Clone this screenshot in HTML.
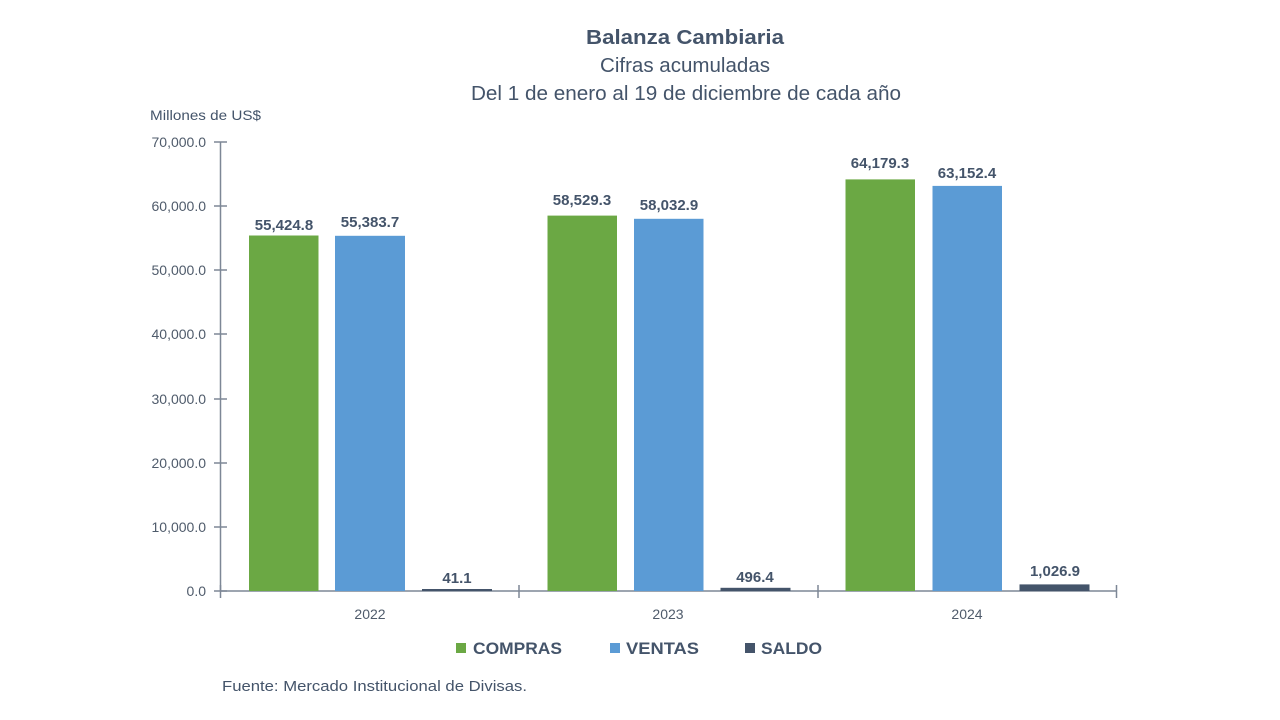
<!DOCTYPE html>
<html><head><meta charset="utf-8"><style>
html,body{margin:0;padding:0;background:#fff;}
svg{display:block;font-family:"Liberation Sans",sans-serif;}
</style></head><body>
<svg width="1280" height="720" viewBox="0 0 1280 720" xmlns="http://www.w3.org/2000/svg">
<rect width="1280" height="720" fill="#fff"/>
<!-- titles -->
<text x="685" y="44" text-anchor="middle" font-size="20" font-weight="bold" fill="#44546a" textLength="198" lengthAdjust="spacingAndGlyphs">Balanza Cambiaria</text>
<text x="685" y="72" text-anchor="middle" font-size="20" fill="#44546a" textLength="170" lengthAdjust="spacingAndGlyphs">Cifras acumuladas</text>
<text x="686" y="100" text-anchor="middle" font-size="20" fill="#44546a" textLength="430" lengthAdjust="spacingAndGlyphs">Del 1 de enero al 19 de diciembre de cada año</text>
<text x="150" y="120" font-size="14" fill="#44546a" textLength="111" lengthAdjust="spacingAndGlyphs">Millones de US$</text>
<!-- y axis -->
<g stroke="#7d8796" stroke-width="1.5">
<line x1="220.5" y1="142" x2="220.5" y2="591"/>
<line x1="214" y1="142" x2="227" y2="142"/>
<line x1="214" y1="206" x2="227" y2="206"/>
<line x1="214" y1="270" x2="227" y2="270"/>
<line x1="214" y1="334" x2="227" y2="334"/>
<line x1="214" y1="399" x2="227" y2="399"/>
<line x1="214" y1="463" x2="227" y2="463"/>
<line x1="214" y1="527" x2="227" y2="527"/>
<line x1="214" y1="591" x2="227" y2="591"/>
<line x1="220" y1="591" x2="1117" y2="591"/>
<line x1="220.5" y1="585" x2="220.5" y2="598"/>
<line x1="519" y1="585" x2="519" y2="598"/>
<line x1="818" y1="585" x2="818" y2="598"/>
<line x1="1116.5" y1="585" x2="1116.5" y2="598"/>
</g>
<g font-size="14" fill="#4f5b6b" text-anchor="end">
<text x="206" y="147">70,000.0</text>
<text x="206" y="211">60,000.0</text>
<text x="206" y="275">50,000.0</text>
<text x="206" y="339">40,000.0</text>
<text x="206" y="404">30,000.0</text>
<text x="206" y="468">20,000.0</text>
<text x="206" y="532">10,000.0</text>
<text x="206" y="596">0.0</text>
</g>
<g font-size="14" fill="#4f5b6b" text-anchor="middle">
<text x="370" y="619">2022</text>
<text x="668" y="619">2023</text>
<text x="967" y="619">2024</text>
</g>
<!-- bars -->
<g>
<rect x="249" y="235.5" width="69.5" height="355.5" fill="#6ba844"/>
<rect x="335" y="235.8" width="70" height="355.2" fill="#5b9bd5"/>
<rect x="422" y="589" width="70" height="2" fill="#44546a"/>
<rect x="547.5" y="215.6" width="69.5" height="375.4" fill="#6ba844"/>
<rect x="634" y="218.8" width="69.5" height="372.2" fill="#5b9bd5"/>
<rect x="720.5" y="587.8" width="70" height="3.2" fill="#44546a"/>
<rect x="845.5" y="179.4" width="69.5" height="411.6" fill="#6ba844"/>
<rect x="932.5" y="185.9" width="69.5" height="405.1" fill="#5b9bd5"/>
<rect x="1019.5" y="584.4" width="70" height="6.6" fill="#44546a"/>
</g>
<g font-size="15" font-weight="bold" fill="#44546a" text-anchor="middle">
<text x="284" y="230">55,424.8</text>
<text x="370" y="227">55,383.7</text>
<text x="457" y="583">41.1</text>
<text x="582" y="205">58,529.3</text>
<text x="669" y="210">58,032.9</text>
<text x="755" y="582">496.4</text>
<text x="880" y="168">64,179.3</text>
<text x="967" y="178">63,152.4</text>
<text x="1055" y="576">1,026.9</text>
</g>
<!-- legend -->
<rect x="456" y="643" width="10" height="10" fill="#6ba844"/>
<text x="473" y="654" font-size="17" font-weight="bold" fill="#44546a" textLength="89" lengthAdjust="spacingAndGlyphs">COMPRAS</text>
<rect x="610" y="643" width="10" height="10" fill="#5b9bd5"/>
<text x="626" y="654" font-size="17" font-weight="bold" fill="#44546a" textLength="73" lengthAdjust="spacingAndGlyphs">VENTAS</text>
<rect x="745" y="643" width="10" height="10" fill="#44546a"/>
<text x="761" y="654" font-size="17" font-weight="bold" fill="#44546a" textLength="61" lengthAdjust="spacingAndGlyphs">SALDO</text>
<text x="222" y="691" font-size="15" fill="#44546a" textLength="305" lengthAdjust="spacingAndGlyphs">Fuente: Mercado Institucional de Divisas.</text>
</svg>
</body></html>
